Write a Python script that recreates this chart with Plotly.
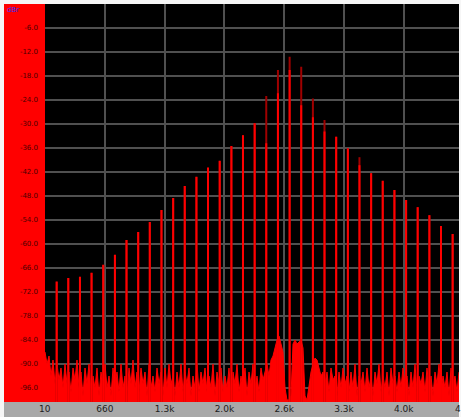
import numpy as np
import plotly.graph_objects as go

# --- spectrum data -------------------------------------------------------
# harmonic frequencies (Hz)
harmonic_hz = [137, 263, 390, 516, 643, 770, 896, 1023, 1149, 1276, 1403, 1529,
               1656, 1782, 1909, 2036, 2162, 2289, 2415, 2542, 2669, 2795, 2922,
               3048, 3175, 3302, 3428, 3555, 3681, 3808, 3935, 4061, 4188, 4314, 4441]
# current harmonic level (dBr)
level_db = [-69.4, -68.5, -68.2, -67.2, -65.2, -62.7, -59.0, -57.0, -54.5, -51.5,
            -48.5, -45.5, -43.2, -40.9, -39.2, -35.5, -32.8, -29.8, -34.8, -22.3,
            -16.5, -25.3, -28.3, -31.9, -33.2, -36.1, -40.3, -42.3, -44.2, -46.5,
            -49.0, -50.8, -52.8, -55.5, -57.5]
# held peak level (dBr)
peak_db = [-69.4, -68.5, -68.2, -67.2, -65.2, -62.7, -59.0, -57.0, -54.5, -51.5,
           -48.5, -45.5, -43.2, -40.9, -39.2, -35.5, -32.8, -29.8, -23.0, -16.5,
           -13.2, -15.7, -23.6, -29.0, -33.2, -36.1, -38.3, -42.3, -44.2, -46.5,
           -49.0, -50.8, -52.8, -55.5, -57.5]
# noise floor (dBr), one value per analysis bin across the band
noise_db = [
    -87, -90, -88, -93, -89, -95, -90, -94, -91, -96,
    -90, -95, -92, -97, -91, -94, -89, -96, -92, -98,
    -91, -95, -90, -97, -93, -96, -91, -98, -92, -95,
    -90, -96, -93, -98, -91, -95, -92, -97, -90, -96,
    -93, -98, -91, -95, -89, -96, -92, -97, -91, -95,
    -92, -98, -90, -96, -93, -97, -91, -95, -92, -98,
    -91, -96, -90, -95, -93, -98, -92, -96, -90, -97,
    -92, -95, -91, -98, -93, -96, -90, -97, -92, -95,
    -91, -97, -93, -96, -90, -98, -92, -95, -91, -97,
    -93, -96, -91, -98, -92, -95, -90, -97, -93, -96,
    -91, -98, -92, -95, -90, -96, -93, -97, -91, -94,
    -92, -90, -93, -89, -88, -86, -84, -83, -85, -87,
    -96, -99, -99, -98, -85, -84, -85, -84.5, -84, -86,
    -98, -99, -95, -92, -90, -88.5, -89, -91, -93, -92,
    -95, -92, -97, -91, -94, -93, -98, -92, -96, -91,
    -95, -93, -97, -92, -96, -90, -98, -93, -95, -92,
    -97, -91, -96, -93, -98, -92, -95, -90, -97, -93,
    -96, -92, -98, -91, -95, -93, -97, -92, -96, -91,
    -95, -93, -98, -92, -96, -90, -97, -93, -95, -92,
    -97, -91, -96, -93, -98, -92, -95, -90, -97, -93,
    -96, -92, -98, -91, -95, -93, -97, -92,
]
F_MIN, F_MAX = 10, 4510
noise_hz = np.linspace(F_MIN, F_MAX, len(noise_db))

tick_hz = [660, 1310, 1960, 2610, 3260, 3910]
tick_text = ["660", "1.3k", "2.0k", "2.6k", "3.3k", "4.0k"]
db_ticks = [-6, -12, -18, -24, -30, -36, -42, -48, -54, -60, -66, -72, -78, -84, -90, -96]
FLOOR = -99.5

W, H = 461, 417
PL, PR, PT, PB = 45, 459, 4, 402


def stems(xs, ys):
    sx, sy = [], []
    for x, y in zip(xs, ys):
        sx += [x, x, None]
        sy += [FLOOR, y, None]
    return sx, sy


fig = go.Figure()

# noise floor, filled down to the bottom of the scale
fig.add_trace(go.Scatter(x=[F_MIN, F_MAX], y=[FLOOR, FLOOR], mode="lines",
                         line=dict(width=0), hoverinfo="skip", showlegend=False))
fig.add_trace(go.Scatter(x=noise_hz, y=noise_db, mode="lines", fill="tonexty",
                         fillcolor="#ff0000", line=dict(color="#ff0000", width=1),
                         showlegend=False))

px_, py_ = stems(harmonic_hz, peak_db)
fig.add_trace(go.Scatter(x=px_, y=py_, mode="lines",
                         line=dict(color="#a00000", width=2), showlegend=False))
lx, ly = stems(harmonic_hz, level_db)
fig.add_trace(go.Scatter(x=lx, y=ly, mode="lines",
                         line=dict(color="#ff0000", width=2), showlegend=False))

fig.update_layout(
    template="none",
    width=W, height=H,
    margin=dict(l=0, r=0, t=0, b=0, pad=0),
    paper_bgcolor="#f6f6f6",
    plot_bgcolor="#000000",
    showlegend=False,
    xaxis=dict(
        domain=[PL / W, PR / W], range=[F_MIN, F_MAX], automargin=False,
        tickvals=tick_hz, ticktext=tick_text,
        showgrid=True, gridcolor="#505050", gridwidth=1.5,
        zeroline=False, showline=False, ticks="",
        tickfont=dict(family="DejaVu Sans", size=9, color="#202020"),
    ),
    yaxis=dict(
        domain=[(H - PB) / H, (H - PT) / H], range=[FLOOR, 0], automargin=False,
        tickvals=db_ticks, ticktext=[f"{v:.1f}" for v in db_ticks],
        showgrid=True, gridcolor="#505050", gridwidth=1.5,
        zeroline=False, showline=False, ticks="", ticklabelstandoff=6,
        tickfont=dict(family="DejaVu Sans", size=7, color="#4a0000"),
    ),
    shapes=[
        # level scale panel
        dict(type="rect", xref="paper", yref="paper", layer="below",
             x0=4 / W, x1=PL / W, y0=(H - PB) / H, y1=(H - PT) / H,
             fillcolor="#ff0000", line=dict(width=0)),
        # frequency scale strip
        dict(type="rect", xref="paper", yref="paper", layer="below",
             x0=4 / W, x1=PR / W, y0=0, y1=(H - PB) / H,
             fillcolor="#a8a8a8", line=dict(width=0)),
    ],
    annotations=[
        dict(text="dBr", xref="paper", yref="paper", x=5 / W, y=(H - 10) / H,
             xanchor="left", yanchor="middle", showarrow=False,
             font=dict(family="DejaVu Sans", size=7, color="#3030ff")),
        dict(text="10", xref="paper", yref="paper", x=PL / W, y=(H - 409) / H,
             xanchor="center", yanchor="middle", showarrow=False,
             font=dict(family="DejaVu Sans", size=9, color="#202020")),
        dict(text="4", xref="paper", yref="paper", x=458 / W, y=(H - 409) / H,
             xanchor="center", yanchor="middle", showarrow=False,
             font=dict(family="DejaVu Sans", size=9, color="#202020")),
    ],
)

fig.write_html("out.html")
